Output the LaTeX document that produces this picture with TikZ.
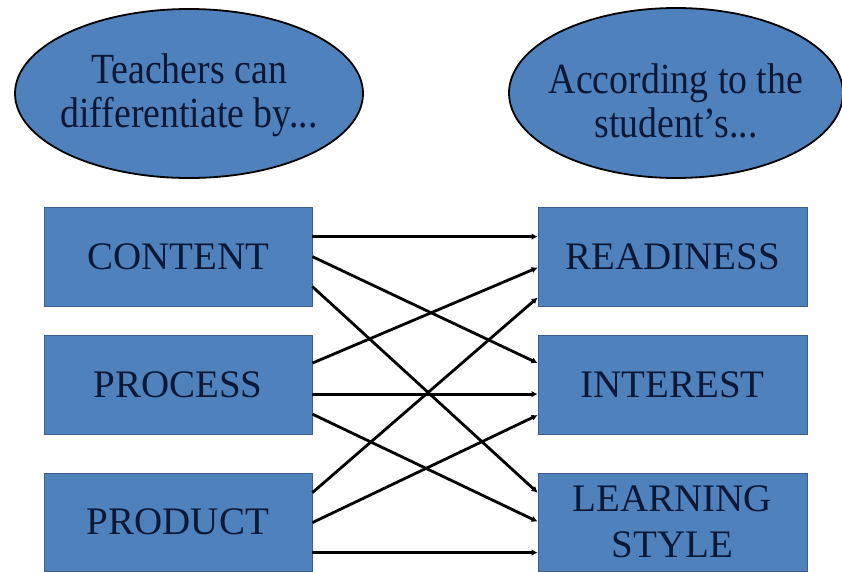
\documentclass[tikz,border=0pt]{standalone}
\usepackage{fontspec}
\setmainfont{Liberation Serif}
\newfontfamily\ellfont[FakeStretch=0.88]{Liberation Serif}
\usetikzlibrary{arrows.meta,shapes.geometric}
\definecolor{boxblue}{HTML}{4F81BD}
\definecolor{boxedge}{HTML}{3A5F8C}
\definecolor{inktext}{HTML}{0C1836}
\begin{document}
\begin{tikzpicture}[x=1pt,y=-1pt,
  boxnode/.style={rectangle, fill=boxblue, draw=boxedge, line width=0.8pt,
    minimum width=268pt, minimum height=99pt, inner sep=0pt, align=center,
    text=inktext, font=\fontsize{39}{46}\selectfont},
  ellnode/.style={ellipse, fill=boxblue, draw=black, line width=1.8pt,
    inner sep=0pt},
  elltext/.style={align=center, text=inktext, inner sep=0pt,
    font=\ellfont\fontsize{43}{44}\selectfont},
  conn/.style={draw=black, line width=2.8pt, -{Latex[length=6pt,width=6.5pt]}}]
\useasboundingbox (0,0) rectangle (842,571);
\fill[white] (0,0) rectangle (842,571);
% ellipses
\node[ellnode, minimum width=348pt, minimum height=169pt] (q1) at (189,93.5) {};
\node[ellnode, minimum width=334pt, minimum height=170pt] (q2) at (676,93) {};
\node[elltext] (q1t) at ([yshift=-2pt]q1.center) {Teachers can\\differentiate by...};
\node[elltext] (q2t) at ([yshift=-8pt]q2.center) {According to the\\student’s...};
% left boxes
\node[boxnode] (content) at (178,256.5) {CONTENT};
\node[boxnode] (process) at (178,385) {PROCESS};
\node[boxnode, minimum height=98pt] (product) at (178,522) {PRODUCT};
% right boxes
\node[boxnode, minimum width=269pt] (readiness) at (672.5,256.5) {READINESS};
\node[boxnode, minimum width=269pt] (interest) at (672.5,385) {INTEREST};
\node[boxnode, minimum width=269pt, minimum height=98pt] (learning) at (672.5,522) {LEARNING\\STYLE};
% connectors
\draw[conn] ([yshift=-30pt]content.north east) -- ([yshift=-30pt]readiness.north west);
\draw[conn] ([yshift=-50pt]content.north east) -- ([yshift=-28pt]interest.north west);
\draw[conn] ([yshift=-80pt]content.north east) -- ([yshift=-20pt]learning.north west);
\draw[conn] ([yshift=-28pt]process.north east) -- ([yshift=-61pt]readiness.north west);
\draw[conn] ([yshift=-59pt]process.north east) -- ([yshift=-59pt]interest.north west);
\draw[conn] ([yshift=-79pt]process.north east) -- ([yshift=-49pt]learning.north west);
\draw[conn] ([yshift=-20pt]product.north east) -- ([yshift=-91pt]readiness.north west);
\draw[conn] ([yshift=-50pt]product.north east) -- ([yshift=-80pt]interest.north west);
\draw[conn] ([yshift=-80pt]product.north east) -- ([yshift=-80pt]learning.north west);
\end{tikzpicture}
\end{document}
